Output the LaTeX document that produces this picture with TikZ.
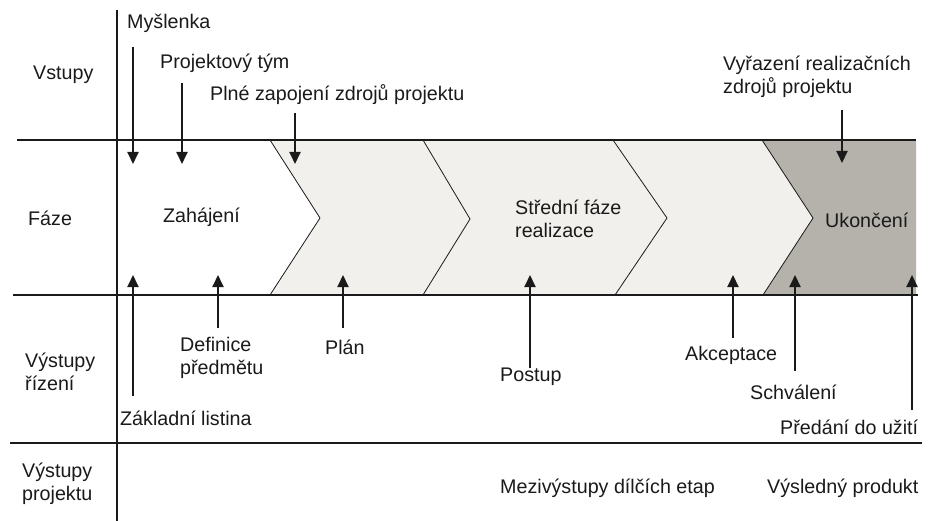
\documentclass[tikz,border=0pt]{standalone}
\usepackage{fontspec}
\setmainfont{Liberation Sans}
\usetikzlibrary{arrows.meta}
\definecolor{lightfill}{HTML}{F1F0EC}
\definecolor{darkfill}{HTML}{B5B2AC}
\definecolor{ink}{HTML}{1A1A1A}
\begin{document}
\begin{tikzpicture}[x=1pt,y=-1pt,
  lbl/.style={inner sep=0pt, anchor=west, font=\fontsize{19.7}{23}\selectfont, align=left, text=ink},
  sep/.style={line width=1.7pt, draw=ink},
  chev/.style={line width=0.8pt, draw=ink},
  arr/.style={line width=1.9pt, draw=ink, -{Triangle[length=12pt,width=11pt]}}]
\useasboundingbox (0,0) rectangle (928,521);
\fill[white] (0,0) rectangle (928,521);

% phase band fills
\fill[lightfill] (270,140) -- (762,140) -- (813,218) -- (763,295) -- (270,295) -- (320,218) -- cycle;
\fill[darkfill] (762,140) -- (916,140) -- (916,295) -- (763,295) -- (813,218) -- cycle;

% chevrons
\draw[chev] (270,140) -- (320,218) -- (270,295);
\draw[chev] (423,140) -- (470,219) -- (423,295);
\draw[chev] (613,140) -- (667,218) -- (615,295);
\draw[chev] (762,140) -- (813,218) -- (763,295);

% grid lines
\draw[sep] (17,140) -- (916,140);
\draw[sep] (13,295) -- (918,295);
\draw[sep] (10,443) -- (922,443);
\draw[sep] (117,10) -- (117,521);

% row labels
\node[lbl] (vstupy) at (33,75) {Vstupy};
\node[lbl] (faze) at (28,218) {Fáze};
\node[lbl] (vyrizeni) at (25,372) {Výstupy\\řízení};
\node[lbl] (vyprojektu) at (22,484) {Výstupy\\projektu};

% phase labels
\node[lbl] (zahajeni) at (163,217) {Zahájení};
\node[lbl] (stredni) at (515,218.5) {Střední fáze\\realizace};
\node[lbl] (ukonceni) at (825,220) {Ukončení};

% inputs
\node[lbl] (myslenka) at (127,23) {Myšlenka};
\node[lbl] (tym) at (160,63) {Projektový tým};
\node[lbl] (plne) at (210,95) {Plné zapojení zdrojů projektu};
\node[lbl] (vyrazeni) at (723,76.5) {Vyřazení realizačních\\zdrojů projektu};

\coordinate (myS) at (133,47);  \coordinate (myE) at (133,164);
\coordinate (tyS) at (182,83);  \coordinate (tyE) at (182,164);
\coordinate (plS) at (295,113); \coordinate (plE) at (295,164);
\coordinate (vyS) at (842,110); \coordinate (vyE) at (842,163);
\draw[arr] (myS) -- (myE);
\draw[arr] (tyS) -- (tyE);
\draw[arr] (plS) -- (plE);
\draw[arr] (vyS) -- (vyE);

% management outputs
\node[lbl] (zakladni) at (120,418) {Základní listina};
\node[lbl] (definice) at (180,358) {Definice\\předmětu};
\node[lbl] (plan) at (325,347) {Plán};
\node[lbl] (postup) at (500,377) {Postup};
\node[lbl] (akceptace) at (685,355) {Akceptace};
\node[lbl] (schvaleni) at (750,392) {Schválení};
\node[lbl] (predani) at (780,427) {Předání do užití};

\coordinate (zaS) at (133,396); \coordinate (zaE) at (133,275);
\coordinate (deS) at (218,328); \coordinate (deE) at (218,275);
\coordinate (paS) at (343,328); \coordinate (paE) at (343,275);
\coordinate (poS) at (530,368); \coordinate (poE) at (530,275);
\coordinate (akS) at (733,338); \coordinate (akE) at (733,275);
\coordinate (scS) at (795,371); \coordinate (scE) at (795,275);
\coordinate (prS) at (912,410); \coordinate (prE) at (912,275);
\draw[arr] (zaS) -- (zaE);
\draw[arr] (deS) -- (deE);
\draw[arr] (paS) -- (paE);
\draw[arr] (poS) -- (poE);
\draw[arr] (akS) -- (akE);
\draw[arr] (scS) -- (scE);
\draw[arr] (prS) -- (prE);

% project outputs
\node[lbl] (mezi) at (500,488) {Mezivýstupy dílčích etap};
\node[lbl] (vysledny) at (767,488) {Výsledný produkt};
\end{tikzpicture}
\end{document}
